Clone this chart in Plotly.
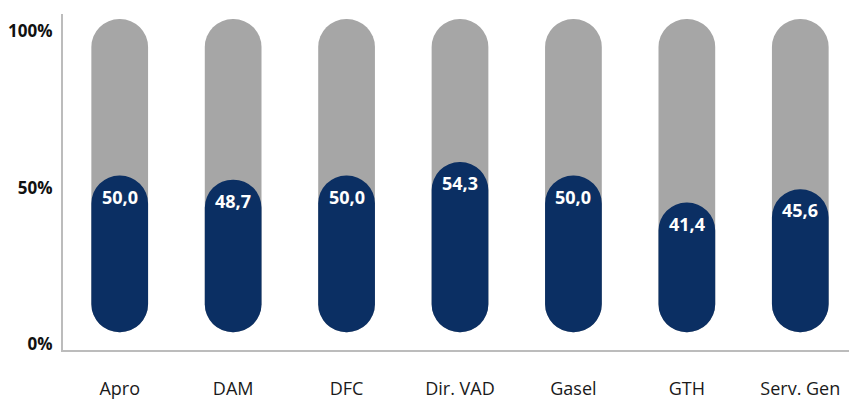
import plotly.graph_objects as go

# data
categories = ["Apro", "DAM", "DFC", "Dir. VAD", "Gasel", "GTH", "Serv. Gen"]
values = [50.0, 48.7, 50.0, 54.3, 50.0, 41.4, 45.6]
total = [100] * len(categories)
value_labels = [f"{v:.1f}".replace(".", ",") for v in values]
y_ticks = [0, 50, 100]
y_ticktext = ["0%", "50%", "100%"]

navy = "#0b2f63"
grey = "#a6a6a6"
font = "Open Sans"

fig = go.Figure()
# grey 100% pill behind, navy value pill in front (base set -> both ends rounded)
for ys, color in [(total, grey), (values, navy)]:
    fig.add_trace(go.Bar(x=categories, y=ys, base=[0] * len(ys),
                         marker=dict(color=color, cornerradius="50%", line_width=0),
                         width=0.5, hoverinfo="skip", showlegend=False))

for c, v, t in zip(categories, values, value_labels):
    fig.add_annotation(x=c, y=v, text=t, showarrow=False, yanchor="top", yshift=-7,
                       font=dict(family=font, size=18, color="white", weight="bold"))

# page body has an 8px margin, so the figure is sized to the visible window
fig.update_layout(barmode="overlay", width=849, height=392,
                  margin=dict(l=55, r=0, t=6, b=50),
                  plot_bgcolor="white", paper_bgcolor="white",
                  font=dict(family=font))
fig.update_yaxes(range=[-5.7, 101.6], tickmode="array", tickvals=y_ticks, ticktext=y_ticktext,
                 showgrid=False, zeroline=False, showline=True, linecolor="#bcbcbc", linewidth=2,
                 automargin=False, ticklabelshift=12, ticklabelstandoff=5,
                 tickfont=dict(family=font, size=17, color="#111", weight="bold"))
fig.update_xaxes(showgrid=False, showline=True, linecolor="#bcbcbc", linewidth=2,
                 automargin=False, ticks="outside", ticklen=0, ticklabelstandoff=21,
                 tickfont=dict(family=font, size=18, color="#1a1a1a"))

fig.write_html("out.html")
